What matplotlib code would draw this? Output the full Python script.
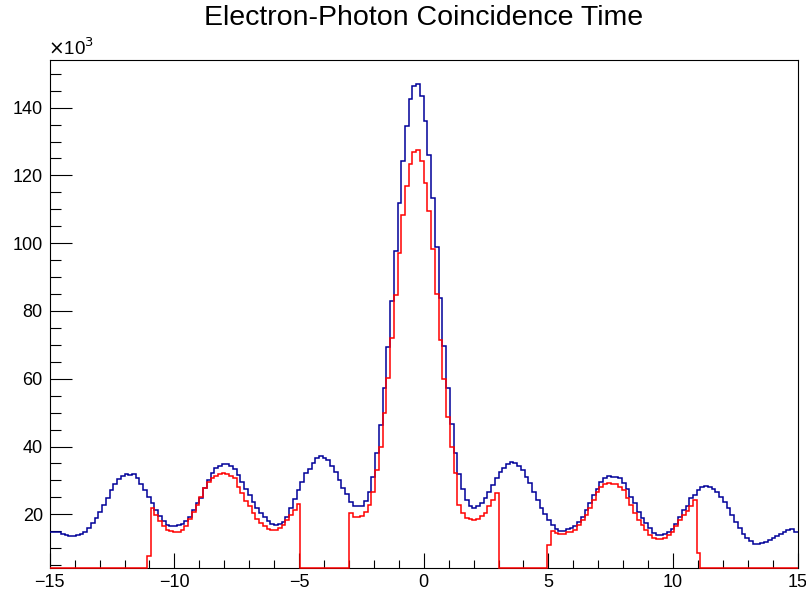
import numpy as np
import matplotlib
matplotlib.use('Agg')
import matplotlib.pyplot as plt
from matplotlib.ticker import MultipleLocator

plt.rcParams['font.family'] = ['Liberation Sans', 'DejaVu Sans']

# histogram definition: 200 bins of 0.15 ns from -15 to 15
x_lo, x_hi, n_bins = -15, 15, 200

# counts per bin, in units of 10^3
all_hits = [
    14.7, 14.7, 14.7, 14.1, 13.9, 13.7, 13.7, 13.9, 14.1, 14.7,
    16.1, 17.4, 19.0, 20.8, 22.7, 24.9, 27.2, 28.8, 30.4, 31.4,
    32.0, 31.7, 31.8, 30.6, 28.8, 27.2, 25.2, 23.2, 21.3, 19.6,
    18.0, 16.9, 16.5, 16.4, 16.9, 17.1, 18.0, 19.3, 21.3, 23.2,
    24.9, 27.8, 30.1, 32.1, 33.7, 34.3, 34.8, 34.7, 34.3, 33.3,
    31.6, 29.6, 27.6, 25.7, 23.7, 22.0, 20.5, 19.3, 18.0, 17.1,
    16.9, 17.1, 17.6, 19.3, 21.8, 24.5, 27.2, 29.6, 32.1, 33.5,
    35.0, 36.5, 37.2, 36.7, 36.0, 34.3, 32.4, 30.1, 27.8, 25.9,
    23.5, 22.5, 22.3, 22.5, 23.9, 26.7, 31.1, 38.2, 46.3, 57.2,
    69.5, 83.0, 97.7, 111.8, 124.3, 134.5, 142.4, 146.3, 147.1, 143.4,
    136.0, 126.1, 113.3, 99.0, 83.8, 69.7, 57.2, 46.5, 38.2, 31.8,
    27.6, 24.2, 22.3, 22.0, 22.3, 23.2, 24.7, 26.7, 28.6, 30.6,
    32.5, 33.7, 34.7, 35.3, 35.0, 34.3, 33.0, 31.1, 29.1, 26.7,
    24.2, 22.0, 20.2, 18.4, 16.9, 15.7, 15.1, 15.1, 15.7, 16.1,
    16.4, 17.6, 19.3, 21.3, 23.2, 25.7, 27.6, 29.6, 30.8, 31.3,
    31.1, 31.1, 30.6, 29.1, 27.6, 25.2, 23.2, 20.8, 19.0, 17.4,
    16.1, 14.4, 13.9, 13.9, 14.1, 14.7, 15.7, 17.1, 19.3, 21.3,
    22.5, 24.7, 25.7, 27.2, 28.1, 28.4, 28.1, 27.6, 26.7, 25.2,
    23.5, 21.8, 19.8, 17.8, 15.9, 14.1, 13.1, 12.0, 11.2, 11.2,
    11.5, 11.8, 12.5, 12.9, 13.7, 14.1, 14.9, 15.4, 15.6, 14.7,
]

selected = [
    0, 0, 0, 0, 0, 0, 0, 0, 0, 0,
    0, 0, 0, 0, 0, 0, 0, 0, 0, 0,
    0, 0, 0, 0, 0, 0, 7.7, 21.8, 19.8, 18.0,
    16.4, 15.4, 15.1, 14.9, 14.9, 15.4, 16.4, 18.6, 20.8, 22.7,
    25.2, 27.8, 29.4, 30.6, 31.4, 31.9, 32.1, 31.8, 31.4, 30.6,
    28.1, 26.2, 23.9, 22.3, 20.3, 18.6, 17.4, 16.4, 15.7, 15.4,
    15.4, 15.9, 16.8, 18.2, 19.8, 21.4, 23.0, 0, 0, 0,
    0, 0, 0, 0, 0, 0, 0, 0, 0, 0,
    20.5, 19.3, 19.3, 19.6, 20.6, 22.7, 26.7, 33.0, 39.9, 49.8,
    60.3, 71.9, 84.7, 97.0, 108.2, 117.0, 123.4, 126.9, 127.6, 124.3,
    117.9, 109.4, 98.3, 84.9, 71.4, 59.9, 48.8, 39.9, 32.1, 22.7,
    20.3, 19.0, 18.6, 18.3, 18.6, 19.6, 20.3, 22.3, 24.2, 26.2,
    0, 0, 0, 0, 0, 0, 0, 0, 0, 0,
    0, 0, 0, 11.0, 15.1, 14.4, 14.1, 14.1, 14.7, 14.9,
    15.4, 16.9, 18.3, 19.8, 21.8, 24.2, 26.7, 28.1, 28.9, 29.1,
    29.0, 28.8, 28.1, 27.2, 24.7, 22.7, 20.3, 18.3, 16.7, 15.4,
    13.9, 13.1, 12.6, 12.6, 13.1, 13.9, 14.7, 16.4, 18.3, 19.8,
    21.0, 22.3, 24.2, 8.5, 0, 0, 0, 0, 0, 0,
    0, 0, 0, 0, 0, 0, 0, 0, 0, 0,
    0, 0, 0, 0, 0, 0, 0, 0, 0, 0,
]

y_lo, y_hi = 4.3, 154.2

edges = np.linspace(x_lo, x_hi, n_bins + 1)

fig = plt.figure(figsize=(8.06, 5.92), dpi=100)
ax = fig.add_axes([49.7 / 806, 24.5 / 592, 748 / 806, 508 / 592])

# ROOT draws empty bins on the frame bottom
ax.stairs(np.clip(all_hits, y_lo, None), edges, baseline=None,
          color='#000099', lw=1.1, zorder=3, clip_on=False)
ax.stairs(np.clip(selected, y_lo, None), edges, baseline=None,
          color='#ff0000', lw=1.1, zorder=4, clip_on=False)

ax.set_xlim(x_lo, x_hi)
ax.set_ylim(y_lo, y_hi)

ax.xaxis.set_major_locator(MultipleLocator(5))
ax.xaxis.set_minor_locator(MultipleLocator(1))
ax.yaxis.set_major_locator(MultipleLocator(20))
ax.yaxis.set_minor_locator(MultipleLocator(5))

ax.tick_params(axis='x', which='major', direction='in', length=10.8, width=0.8,
               labelsize=13, pad=5)
ax.tick_params(axis='x', which='minor', direction='in', length=5.5, width=0.8)
ax.tick_params(axis='y', which='major', direction='in', length=16, width=0.8,
               labelsize=13, pad=5)
ax.tick_params(axis='y', which='minor', direction='in', length=8, width=0.8)
ax.tick_params(top=False, right=False, which='both')

for sp in ax.spines.values():
    sp.set_linewidth(0.8)
    sp.set_color('black')

fig.text(48 / 806, 1 - 55 / 592, r'$\times$10$^{3}$', fontsize=13.5,
         ha='left', va='baseline')
fig.text(424 / 806, 1 - 18 / 592, 'Electron-Photon Coincidence Time',
         fontsize=20.5, ha='center', va='center')

fig.savefig('out.png', dpi=100)
